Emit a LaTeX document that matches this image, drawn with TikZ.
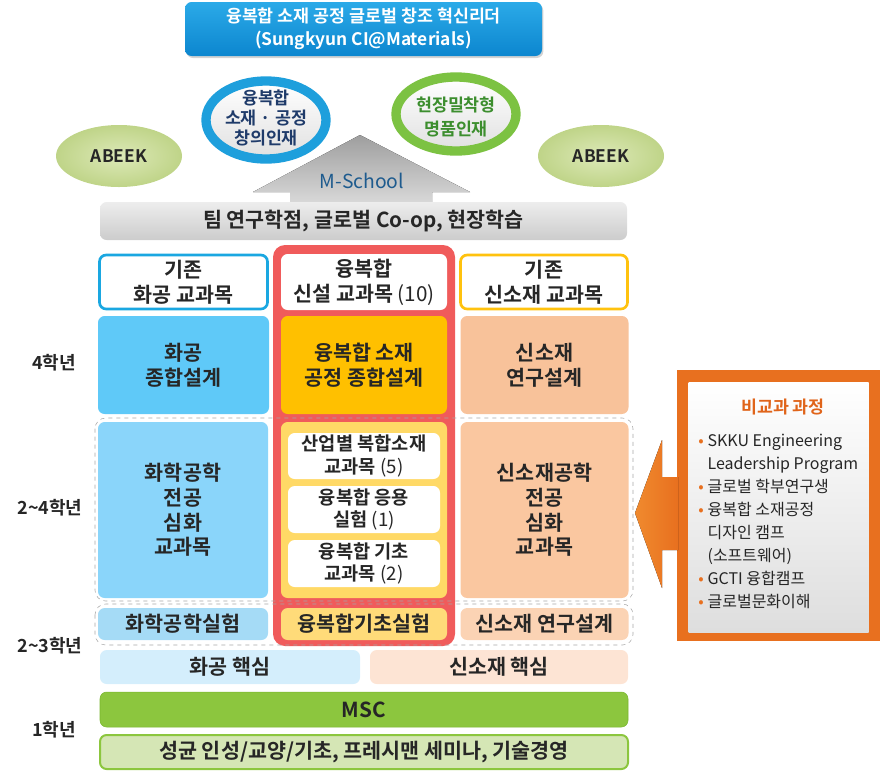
\documentclass[tikz,border=0pt]{standalone}
\usepackage{fontspec}
\setmainfont{Noto Sans CJK KR}[BoldFont={* Bold}]
\usetikzlibrary{shapes.geometric,shadows}
\definecolor{txt}{HTML}{262626}
\definecolor{topblue}{HTML}{2BAAE8}
\definecolor{topblue2}{HTML}{0C86CF}
\definecolor{ringblue}{HTML}{1E9FDC}
\definecolor{ringgreen}{HTML}{7CC242}
\definecolor{navy}{HTML}{1F3B6A}
\definecolor{leaf}{HTML}{3C8E2E}
\definecolor{abeek}{HTML}{DDE9B8}
\definecolor{abeek2}{HTML}{BFD488}
\definecolor{mblue}{HTML}{1E5B8E}
\definecolor{hdrblue}{HTML}{1AA7E1}
\definecolor{hdryel}{HTML}{FFC20E}
\definecolor{redcol}{HTML}{F05B5B}
\definecolor{cfourL}{HTML}{5FC9F8}
\definecolor{cfourM}{HTML}{FFC000}
\definecolor{cfourR}{HTML}{F8C29A}
\definecolor{ctwoL}{HTML}{8AD5FA}
\definecolor{ctwoM}{HTML}{FFD966}
\definecolor{ctwoR}{HTML}{FAC7A0}
\definecolor{cthrL}{HTML}{A5DBF6}
\definecolor{cthrM}{HTML}{FFDB79}
\definecolor{cthrR}{HTML}{FBD3B4}
\definecolor{coreL}{HTML}{D4EEFC}
\definecolor{coreR}{HTML}{FDE4D4}
\definecolor{msc}{HTML}{8CC63E}
\definecolor{mscb}{HTML}{79B52F}
\definecolor{base}{HTML}{D5E6B5}
\definecolor{orng}{HTML}{E8701F}
\definecolor{orng2}{HTML}{F08A2E}
\definecolor{otitle}{HTML}{E0641A}
\newcommand{\dotmark}{\makebox[7pt][l]{\textcolor{orng}{\textbullet}}}
\begin{document}
\begin{tikzpicture}[x=0.75pt, y=-0.75pt,
    cell/.style 2 args={rectangle, rounded corners=5pt, minimum width=#1*0.75pt,
      minimum height=#2*0.75pt, inner sep=0pt, align=center, text=txt,
      font=\bfseries\fontsize{15.5}{18.5}\selectfont},
    ring/.style 2 args={ellipse, line width=7pt, top color=white, bottom color=black!12,
      minimum width=#1*0.75pt, minimum height=#2*0.75pt, inner sep=0pt},
    year/.style={font=\bfseries\fontsize{13.5}{15}\selectfont, text=txt}]
      \useasboundingbox (0,0) rectangle (880,772);
      \node[cell={357}{54}, top color=topblue, bottom color=topblue2, text=white,
        font=\bfseries\fontsize{13}{17}\selectfont,
        drop shadow={opacity=0.35, shadow xshift=1pt, shadow yshift=-1.5pt}] (T) at (363.5,29)
        {융복합 소재 공정 글로벌 창조 혁신리더\\(Sungkyun CI@Materials)};
      \node[ring={120}{78}, draw=ringblue] (CL) at (266,120) {};
      \node[text=navy, align=center, font=\bfseries\fontsize{13}{15}\selectfont] (CLt) at (266,118)
        {융복합\\소재 · 공정\\창의인재};
      \node[ring={120}{74}, draw=ringgreen] (CR) at (456,114) {};
      \node[text=leaf, align=center, font=\bfseries\fontsize{13}{18.5}\selectfont] (CRt) at (456,117)
        {현장밀착형\\명품인재};
      \node[ellipse, inner color=abeek, outer color=abeek2, minimum width=126*0.75pt,
        minimum height=62*0.75pt, text=txt, font=\bfseries\fontsize{13}{15}\selectfont] (AL) at (119,156) {ABEEK};
      \node[ellipse, inner color=abeek, outer color=abeek2, minimum width=126*0.75pt,
        minimum height=62*0.75pt, text=txt, font=\bfseries\fontsize{13}{15}\selectfont] (AR) at (601,156) {ABEEK};
      \coordinate (Tip) at (360,135);
      \coordinate (HL) at (253,192);
      \coordinate (HR) at (470,192);
      \fill[top color=black!38, bottom color=black!14] (Tip) -- (HR) -- (432,192) -- (432,206)
        -- (290,206) -- (290,192) -- (HL) -- cycle;
      \node[text=mblue, font=\fontsize{14.5}{16}\selectfont] (MS) at (362,181) {M-School};
      \node[cell={527}{38}, top color=black!7, bottom color=black!20] (G) at (363.5,221)
        {팀 연구학점, 글로벌 Co-op, 현장학습};
      \fill[redcol, rounded corners=9pt] (273,245) rectangle (455,646);
      \draw[dashed, black!35, rounded corners=8pt] (95,418) rectangle (633,601);
      \draw[dashed, black!35, rounded corners=8pt] (95,604) rectangle (633,645);
      \node[cell={168}{54}, draw=hdrblue, line width=2pt, fill=white] (H1) at (183.5,282) {기존\\화공 교과목};
      \node[cell={166}{56}, fill=white] (H2) at (364,282)
        {융복합\\신설 교과목 {\mdseries (10)}};
      \node[cell={167}{54}, draw=hdryel, line width=2pt, fill=white] (H3) at (544,282) {기존\\신소재 교과목};
      \node[cell={171}{98}, fill=cfourL] (L4) at (183.5,365) {화공\\종합설계};
      \node[cell={166}{98}, fill=cfourM] (M4) at (364,365) {융복합 소재\\공정 종합설계};
      \node[cell={168}{98}, fill=cfourR] (R4) at (544.5,365) {신소재\\연구설계};
      \node[year] (Y4) at (54,363) {4학년};
      \node[cell={170}{176}, fill=ctwoL] (L2) at (183,510) {화학공학\\전공\\심화\\교과목};
      \node[cell={166}{176}, fill=ctwoM] (M2) at (364,510) {};
      \node[cell={152}{46}, fill=white, font=\bfseries\fontsize{14}{17}\selectfont] (S1) at (364,456)
        {산업별 복합소재\\교과목 {\mdseries (5)}};
      \node[cell={152}{47}, fill=white, font=\bfseries\fontsize{14}{17}\selectfont] (S2) at (364,509.5)
        {융복합 응용\\실험 {\mdseries (1)}};
      \node[cell={152}{47}, fill=white, font=\bfseries\fontsize{14}{17}\selectfont] (S3) at (364,563.5)
        {융복합 기초\\교과목 {\mdseries (2)}};
      \node[cell={168}{176}, fill=ctwoR] (R2) at (544.5,510) {신소재공학\\전공\\심화\\교과목};
      \node[year] (Y24) at (50,508) {2\textasciitilde4학년};
      \node[cell={170}{32}, fill=cthrL] (L3) at (183,624) {화학공학실험};
      \node[cell={166}{32}, fill=cthrM] (M3) at (364,624) {융복합기초실험};
      \node[cell={168}{32}, fill=cthrR] (R3) at (544.5,624) {신소재 연구설계};
      \node[year] (Y23) at (50,646) {2\textasciitilde3학년};
      \node[cell={260}{34}, fill=coreL] (K1) at (230,667) {화공 핵심};
      \node[cell={258}{34}, fill=coreR] (K2) at (499,667) {신소재 핵심};
      \node[cell={528}{35}, fill=msc, draw=mscb] (MSC) at (364,709.5) {MSC};
      \node[cell={528}{34}, fill=base, draw=msc, line width=1.5pt] (B) at (364,752)
        {성균 인성/교양/기초, 프레시맨 세미나, 기술경영};
      \node[year] (Y1) at (54,730) {1학년};
      \fill[orng] (677,370) rectangle (880,641);
      \node[rectangle, minimum width=180*0.75pt, minimum height=250*0.75pt, inner sep=0pt,
        top color=white, bottom color=black!13] (I) at (778.5,507) {};
      \coordinate (OTip) at (635,513);
      \fill[left color=orng2, right color=orng] (OTip) -- (662,440) -- (662,477) -- (678,477)
        -- (678,550) -- (662,550) -- (662,588) -- cycle;
      \node[text=otitle, font=\bfseries\fontsize{13}{15}\selectfont] (OT) at (783,407) {비교과 과정};
      \node[anchor=north west, align=left, inner sep=0pt, text=txt,
        font=\fontsize{12}{17.25}\selectfont] (OL) at (698,434)
        {\dotmark SKKU Engineering\\
         \hphantom{\dotmark}Leadership Program\\
         \dotmark 글로벌 학부연구생\\
         \dotmark 융복합 소재공정\\
         \hphantom{\dotmark}디자인 캠프\\
         \hphantom{\dotmark}(소프트웨어)\\
         \dotmark GCTI 융합캠프\\
         \dotmark 글로벌문화이해};
    \end{tikzpicture}
\end{document}
